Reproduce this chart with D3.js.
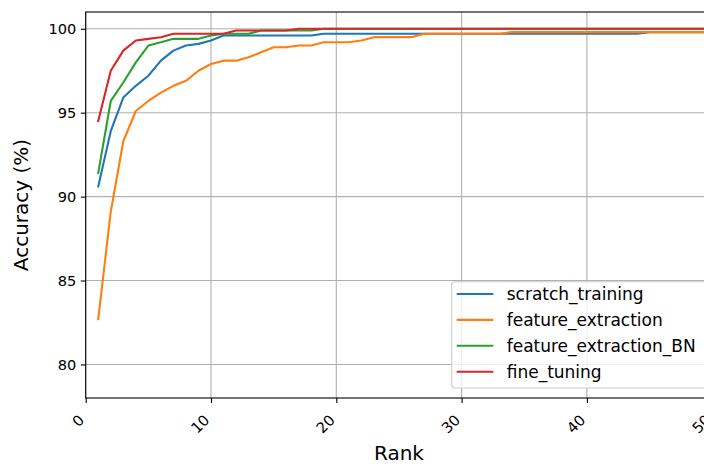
<!DOCTYPE html>
<html>
<head>
<meta charset="utf-8">
<script src="https://cdn.jsdelivr.net/npm/d3@7"></script>
<style>
  html, body { margin: 0; padding: 0; background: #fff; overflow: hidden; }
  svg { display: block; font-family: "DejaVu Sans", sans-serif; }
</style>
</head>
<body>
<svg id="chart" width="704" height="466"></svg>
<script>
// Top-k accuracy by rank for four training strategies
const ranks = d3.range(1, 51);

const seriesNames = ["scratch_training", "feature_extraction", "feature_extraction_BN", "fine_tuning"];
const seriesColors = ["#1f77b4", "#ff7f0e", "#2ca02c", "#d62728"];

const scratchTraining = [
  90.6, 93.9, 95.9, 96.6, 97.2, 98.1, 98.7, 99.0, 99.1, 99.3,
  99.6, 99.6, 99.6, 99.6, 99.6, 99.6, 99.6, 99.6, 99.7, 99.7,
  99.7, 99.7, 99.7, 99.7, 99.7, 99.7, 99.7, 99.7, 99.7, 99.7,
  99.7, 99.7, 99.7, 99.7, 99.7, 99.7, 99.7, 99.7, 99.7, 99.7,
  99.7, 99.7, 99.7, 99.7, 99.8, 99.8, 99.8, 99.8, 99.8, 99.8
];
const featureExtraction = [
  82.7, 89.1, 93.3, 95.1, 95.7, 96.2, 96.6, 96.9, 97.5, 97.9,
  98.1, 98.1, 98.3, 98.6, 98.9, 98.9, 99.0, 99.0, 99.2, 99.2,
  99.2, 99.3, 99.5, 99.5, 99.5, 99.5, 99.7, 99.7, 99.7, 99.7,
  99.7, 99.7, 99.7, 99.8, 99.8, 99.8, 99.8, 99.8, 99.8, 99.8,
  99.8, 99.8, 99.8, 99.8, 99.8, 99.8, 99.8, 99.8, 99.8, 99.8
];
const featureExtractionBN = [
  91.4, 95.7, 96.8, 98.0, 99.0, 99.2, 99.4, 99.4, 99.4, 99.6,
  99.7, 99.7, 99.7, 99.9, 99.9, 99.9, 99.9, 99.9, 100, 100,
  100, 100, 100, 100, 100, 100, 100, 100, 100, 100,
  100, 100, 100, 100, 100, 100, 100, 100, 100, 100,
  100, 100, 100, 100, 100, 100, 100, 100, 100, 100
];
const fineTuning = [
  94.5, 97.5, 98.7, 99.3, 99.4, 99.5, 99.7, 99.7, 99.7, 99.7,
  99.7, 99.9, 99.9, 99.9, 99.9, 99.9, 100, 100, 100, 100,
  100, 100, 100, 100, 100, 100, 100, 100, 100, 100,
  100, 100, 100, 100, 100, 100, 100, 100, 100, 100,
  100, 100, 100, 100, 100, 100, 100, 100, 100, 100
];
const seriesValues = [scratchTraining, featureExtraction, featureExtractionBN, fineTuning];

const xTicks = [0, 10, 20, 30, 40, 50];
const yTicks = [80, 85, 90, 95, 100];

const svg = d3.select("#chart");
const plot = { left: 85.7, top: 12, width: 626.5, height: 386 };

const x = d3.scaleLinear().domain([0, 50]).range([plot.left, plot.left + plot.width]);
const y = d3.scaleLinear().domain([78, 101]).range([plot.top + plot.height, plot.top]);

// grid
const grid = svg.append("g").attr("stroke", "#b0b0b0").attr("stroke-width", 1.1);
grid.selectAll("line.gx").data(xTicks).join("line")
  .attr("x1", d => x(d)).attr("x2", d => x(d))
  .attr("y1", plot.top).attr("y2", plot.top + plot.height);
grid.selectAll("line.gy").data(yTicks).join("line")
  .attr("x1", plot.left).attr("x2", plot.left + plot.width)
  .attr("y1", d => y(d)).attr("y2", d => y(d));

// series lines
const line = d3.line().x((d, i) => x(ranks[i])).y(d => y(d));
svg.append("g").selectAll("path").data(seriesValues).join("path")
  .attr("d", d => line(d))
  .attr("fill", "none")
  .attr("stroke", (d, i) => seriesColors[i])
  .attr("stroke-width", 2.1)
  .attr("stroke-linejoin", "round")
  .attr("stroke-linecap", "square");

// axes
const xAxis = svg.append("g")
  .attr("transform", `translate(0,${plot.top + plot.height})`)
  .call(d3.axisBottom(x).tickValues(xTicks).tickSize(4.9).tickPadding(3).tickFormat(d3.format("d")));
xAxis.attr("font-size", null).attr("font-family", null);
xAxis.select(".domain").remove();
xAxis.selectAll(".tick line").attr("stroke", "#000").attr("stroke-width", 1.1);
xAxis.selectAll(".tick text")
  .style("font-size", "14.8px")
  .attr("fill", "#000")
  .attr("text-anchor", "end")
  .attr("dy", null)
  .attr("y", null)
  .attr("transform", "translate(-1,23) rotate(-45)");

const yAxis = svg.append("g")
  .attr("transform", `translate(${plot.left},0)`)
  .call(d3.axisLeft(y).tickValues(yTicks).tickSize(4.9).tickPadding(4.5).tickFormat(d3.format("d")));
yAxis.attr("font-size", null).attr("font-family", null);
yAxis.select(".domain").remove();
yAxis.selectAll(".tick line").attr("stroke", "#000").attr("stroke-width", 1.1);
yAxis.selectAll(".tick text").style("font-size", "14.6px").attr("fill", "#000");

// frame
svg.append("rect")
  .attr("x", plot.left).attr("y", plot.top)
  .attr("width", plot.width).attr("height", plot.height)
  .attr("fill", "none").attr("stroke", "#000").attr("stroke-width", 1.1);

// axis titles
svg.append("text")
  .attr("x", x(25)).attr("y", 460)
  .attr("text-anchor", "middle").style("font-size", "20px")
  .text("Rank");
svg.append("text")
  .attr("transform", `translate(28,${plot.top + plot.height / 2}) rotate(-90)`)
  .attr("text-anchor", "middle").style("font-size", "20px")
  .text("Accuracy (%)");

// legend
const legend = svg.append("g");
legend.append("rect")
  .attr("x", 451.7).attr("y", 281.7).attr("width", 256).attr("height", 106.3)
  .attr("rx", 3).attr("fill", "#fff").attr("fill-opacity", 0.8)
  .attr("stroke", "#cccccc").attr("stroke-width", 1.1);
const entries = legend.selectAll("g.entry").data(seriesNames).join("g")
  .attr("transform", (d, i) => `translate(0,${294 + i * 25.9})`);
entries.append("line")
  .attr("x1", 456.7).attr("x2", 493.3)
  .attr("stroke", (d, i) => seriesColors[i]).attr("stroke-width", 2.1);
entries.append("text")
  .attr("x", 506.7).attr("dy", "0.36em")
  .style("font-size", "17px")
  .text(d => d);
</script>
</body>
</html>
